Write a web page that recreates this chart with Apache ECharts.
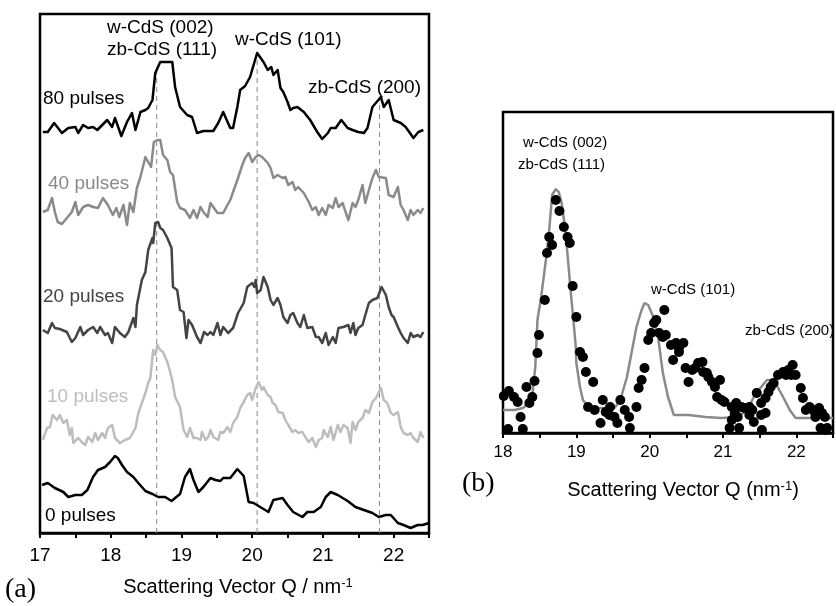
<!DOCTYPE html>
<html>
<head>
<meta charset="utf-8">
<script src="https://cdn.jsdelivr.net/npm/echarts@6/dist/echarts.min.js"></script>
<style>
  html, body { margin: 0; padding: 0; background: #fff; }
  #chart { width: 836px; height: 606px; }
</style>
</head>
<body>
<div id="chart"></div>
<script>
// ---- Panel (a): stacked scattering traces, [Q (nm^-1), offset intensity (a.u.)] ----
const trace80 = [[17.04,401],[17.11,401],[17.20,410],[17.31,400],[17.40,405],[17.50,406],[17.54,400],[17.61,408],[17.68,405],[17.75,406],[17.81,403],[17.88,408],[17.95,413],[18.02,406],[18.06,415],[18.15,397],[18.23,411],[18.30,420],[18.35,403],[18.42,421],[18.49,423],[18.53,425],[18.59,433],[18.63,460],[18.70,471],[18.87,471],[18.91,446],[18.98,426],[19.08,418],[19.15,416],[19.22,400],[19.31,402],[19.45,402],[19.52,410],[19.59,421],[19.69,405],[19.73,405],[19.79,426],[19.83,443],[19.90,447],[19.97,456],[20.02,468],[20.07,480],[20.16,471],[20.22,463],[20.27,466],[20.30,458],[20.36,463],[20.40,445],[20.44,441],[20.50,431],[20.54,423],[20.58,425],[20.64,426],[20.73,421],[20.82,413],[20.92,401],[20.99,394],[21.07,400],[21.11,405],[21.18,405],[21.26,413],[21.35,405],[21.42,403],[21.50,401],[21.58,400],[21.63,405],[21.70,426],[21.82,436],[21.86,426],[21.93,433],[22.00,413],[22.10,410],[22.17,406],[22.28,395],[22.35,401],[22.42,403]];

const trace40 = [[17.04,321],[17.11,323],[17.17,335],[17.21,321],[17.25,311],[17.31,309],[17.38,315],[17.45,321],[17.50,331],[17.54,318],[17.61,326],[17.68,328],[17.75,326],[17.82,325],[17.89,335],[17.96,328],[18.03,318],[18.08,325],[18.12,316],[18.18,328],[18.23,308],[18.27,330],[18.32,321],[18.37,345],[18.42,356],[18.49,376],[18.53,371],[18.57,366],[18.61,391],[18.66,393],[18.70,393],[18.74,378],[18.80,373],[18.84,361],[18.88,358],[18.94,331],[18.98,325],[19.05,323],[19.12,315],[19.17,323],[19.22,315],[19.27,326],[19.31,321],[19.37,316],[19.41,330],[19.45,326],[19.51,320],[19.59,320],[19.65,328],[19.69,333],[19.73,341],[19.80,355],[19.86,368],[19.90,375],[19.95,380],[20.00,371],[20.05,376],[20.09,378],[20.14,376],[20.22,370],[20.26,365],[20.30,355],[20.36,358],[20.43,355],[20.47,356],[20.51,348],[20.57,351],[20.61,343],[20.65,346],[20.73,340],[20.80,331],[20.85,323],[20.90,326],[20.94,318],[20.99,325],[21.04,318],[21.08,328],[21.14,325],[21.18,335],[21.22,326],[21.28,330],[21.32,321],[21.36,313],[21.42,330],[21.46,326],[21.50,333],[21.56,348],[21.60,330],[21.65,343],[21.70,355],[21.75,363],[21.79,356],[21.89,355],[21.93,338],[22.00,336],[22.06,346],[22.10,328],[22.14,323],[22.20,313],[22.24,323],[22.28,318],[22.34,323],[22.38,320],[22.42,325]];

const trace20 = [[17.04,203],[17.11,200],[17.17,210],[17.21,205],[17.28,204],[17.38,201],[17.45,191],[17.50,195],[17.57,206],[17.61,198],[17.68,203],[17.75,206],[17.81,200],[17.85,206],[17.92,198],[17.96,200],[18.02,190],[18.06,206],[18.13,200],[18.20,196],[18.25,201],[18.32,215],[18.35,206],[18.37,228],[18.44,253],[18.49,261],[18.53,283],[18.59,295],[18.60,290],[18.63,310],[18.67,311],[18.70,305],[18.74,303],[18.80,295],[18.86,285],[18.88,246],[18.94,243],[18.98,223],[19.03,221],[19.07,195],[19.10,213],[19.15,208],[19.22,196],[19.27,190],[19.32,201],[19.37,198],[19.41,201],[19.45,198],[19.51,210],[19.55,198],[19.59,206],[19.66,200],[19.73,205],[19.80,220],[19.88,230],[19.93,246],[20.00,250],[20.03,246],[20.05,253],[20.07,240],[20.12,243],[20.16,256],[20.22,246],[20.26,233],[20.30,228],[20.36,235],[20.40,228],[20.44,216],[20.50,210],[20.54,218],[20.58,220],[20.64,210],[20.68,206],[20.73,218],[20.78,205],[20.85,206],[20.90,196],[20.94,196],[20.99,190],[21.04,200],[21.08,188],[21.14,196],[21.18,190],[21.22,205],[21.29,206],[21.36,208],[21.39,200],[21.43,210],[21.46,198],[21.50,205],[21.56,208],[21.60,218],[21.65,230],[21.70,233],[21.77,235],[21.83,246],[21.89,238],[21.93,226],[21.97,218],[22.00,216],[22.06,206],[22.10,200],[22.14,195],[22.20,190],[22.24,200],[22.28,196],[22.34,198],[22.38,196],[22.42,201]];

const trace10 = [[17.04,93],[17.10,105],[17.14,106],[17.18,118],[17.24,113],[17.28,118],[17.33,110],[17.38,113],[17.42,98],[17.45,105],[17.47,90],[17.54,95],[17.59,91],[17.64,88],[17.68,96],[17.74,91],[17.78,100],[17.82,93],[17.88,100],[17.92,95],[17.96,105],[18.02,108],[18.06,95],[18.13,90],[18.20,93],[18.27,95],[18.35,105],[18.39,120],[18.44,130],[18.49,140],[18.53,150],[18.56,155],[18.60,183],[18.63,178],[18.66,188],[18.70,183],[18.74,181],[18.80,171],[18.84,161],[18.87,153],[18.91,136],[18.98,126],[19.03,103],[19.08,96],[19.12,105],[19.17,95],[19.22,95],[19.27,93],[19.29,101],[19.34,93],[19.38,96],[19.41,103],[19.45,96],[19.52,93],[19.55,101],[19.59,100],[19.65,106],[19.69,101],[19.73,110],[19.79,116],[19.83,125],[19.88,131],[19.93,138],[19.97,140],[20.00,133],[20.05,145],[20.09,151],[20.14,143],[20.16,146],[20.22,138],[20.26,136],[20.29,130],[20.33,128],[20.37,121],[20.43,120],[20.47,113],[20.51,108],[20.57,101],[20.61,103],[20.65,100],[20.71,101],[20.75,96],[20.80,91],[20.85,95],[20.90,86],[20.94,93],[20.99,95],[21.01,103],[21.07,96],[21.11,106],[21.15,93],[21.21,108],[21.25,101],[21.29,108],[21.35,105],[21.39,90],[21.42,111],[21.46,103],[21.50,111],[21.56,115],[21.60,123],[21.65,120],[21.70,131],[21.75,135],[21.82,145],[21.86,133],[21.91,130],[21.96,120],[22.00,118],[22.06,121],[22.10,106],[22.14,100],[22.20,98],[22.24,100],[22.28,95],[22.34,91],[22.38,101],[22.42,95]];

const trace0 = [[17.03,48],[17.11,50],[17.21,45],[17.33,41],[17.40,36],[17.50,38],[17.59,38],[17.67,43],[17.75,56],[17.82,63],[17.92,66],[17.99,71],[18.06,77],[18.10,75],[18.16,68],[18.23,61],[18.32,56],[18.39,50],[18.49,42],[18.59,39],[18.67,36],[18.77,36],[18.86,32],[18.91,35],[18.98,39],[19.05,56],[19.12,64],[19.17,53],[19.24,41],[19.31,46],[19.41,55],[19.48,53],[19.55,52],[19.59,55],[19.69,55],[19.79,64],[19.88,57],[19.95,31],[20.02,30],[20.09,27],[20.16,24],[20.23,21],[20.30,33],[20.43,35],[20.50,28],[20.58,21],[20.71,16],[20.78,21],[20.87,21],[20.97,26],[21.04,36],[21.11,41],[21.21,38],[21.35,32],[21.46,26],[21.58,23],[21.70,20],[21.79,16],[21.89,18],[21.96,18],[22.06,10],[22.14,8],[22.24,5],[22.34,8],[22.41,8],[22.50,10]];

// Reflection positions marked with dashed guides, and how high each guide reaches
const peakQ = [18.65, 20.07, 21.8];
const peakGuideTop = [466, 477, 433];

// ---- Panel (b): measured points and model curve, [Q (nm^-1), intensity (a.u.)] ----
const modelCurve = [[18.00,23],[18.16,23],[18.27,25],[18.36,30],[18.40,38],[18.44,66],[18.47,113],[18.52,136],[18.59,176],[18.63,203],[18.67,238],[18.72,244],[18.76,241],[18.80,230],[18.85,203],[18.89,170],[18.93,136],[18.96,113],[18.99,88],[19.00,70],[19.05,46],[19.09,33],[19.16,26],[19.29,25],[19.52,25],[19.60,33],[19.69,56],[19.76,83],[19.82,106],[19.89,123],[19.93,130],[19.98,128],[20.05,116],[20.12,93],[20.18,60],[20.25,36],[20.33,18],[20.53,18],[20.76,16],[20.98,15],[21.20,16],[21.33,23],[21.42,36],[21.52,46],[21.60,53],[21.66,53],[21.73,48],[21.82,36],[21.91,23],[21.99,15],[22.13,15],[22.50,15]];

const measured = [[18.01,37],[18.08,42],[18.15,36],[18.20,31],[18.24,16],[18.07,4],[18.27,4],[18.32,46],[18.36,30],[18.40,36],[18.43,52],[18.47,80],[18.49,98],[18.57,133],[18.60,180],[18.63,196],[18.67,188],[18.72,233],[18.77,222],[18.83,206],[18.88,196],[18.91,190],[18.95,147],[19.00,116],[19.05,81],[19.09,76],[19.13,61],[19.23,51],[19.16,26],[19.25,23],[19.36,33],[19.40,21],[19.33,10],[19.45,18],[19.46,26],[19.52,16],[19.56,10],[19.60,33],[19.66,23],[19.72,16],[19.73,5],[19.82,26],[19.85,45],[19.89,53],[19.93,65],[19.98,93],[20.02,100],[20.06,110],[20.09,113],[20.20,123],[20.13,100],[20.18,96],[20.22,98],[20.29,88],[20.36,90],[20.40,85],[20.46,90],[20.32,73],[20.40,81],[20.49,65],[20.53,51],[20.58,63],[20.62,65],[20.66,70],[20.72,71],[20.73,61],[20.78,60],[20.80,56],[20.85,51],[20.89,46],[20.96,53],[20.92,36],[20.98,33],[21.02,31],[21.12,26],[21.16,20],[21.20,16],[21.12,13],[21.09,5],[21.22,5],[21.18,30],[21.25,26],[21.29,25],[21.36,26],[21.40,23],[21.36,18],[21.42,11],[21.46,40],[21.52,30],[21.58,35],[21.62,41],[21.65,46],[21.69,50],[21.52,18],[21.58,20],[21.53,3],[21.75,58],[21.82,61],[21.89,63],[21.95,68],[21.99,58],[21.93,58],[21.86,58],[22.06,45],[22.09,35],[22.13,23],[22.18,26],[22.19,25],[22.25,21],[22.31,25],[22.35,20],[22.26,16],[22.39,16],[22.33,5],[22.39,3],[22.42,5]];

const SANS = '"Liberation Sans", Arial, Helvetica, sans-serif';
const SERIF = '"Liberation Serif", "Times New Roman", serif';

function intOnly(v) { return Number.isInteger(v) ? String(v) : ''; }

function bottomAxis(gridIndex, min, max, fontSize, margin) {
  return {
    type: 'value', gridIndex, min, max, interval: 0.5,
    axisLine: { show: true, onZero: false, lineStyle: { color: '#000', width: 2.5 } },
    axisTick: { show: true, inside: false, length: 5, lineStyle: { color: '#000', width: 2 } },
    axisLabel: { formatter: intOnly, color: '#000', fontSize, fontFamily: SANS, margin },
    splitLine: { show: false }
  };
}

function trace(data, color) {
  return {
    type: 'line', xAxisIndex: 0, yAxisIndex: 0, data, showSymbol: false,
    lineStyle: { color, width: 2.5, join: 'round' }, z: 3, silent: true
  };
}

const guides = peakQ.map((q, k) => ({
  type: 'line', xAxisIndex: 0, yAxisIndex: 0, showSymbol: false, silent: true, z: 2,
  data: [[q, 0], [q, peakGuideTop[k]]],
  lineStyle: { color: '#888', width: 1, type: [5, 4] }
}));

function label(text, x, y, size, color, family) {
  return {
    type: 'text', x, y, silent: true,
    style: { text, fontSize: size, fontFamily: family || SANS, fill: color || '#000', verticalAlign: 'middle', align: 'left' }
  };
}

const chart = echarts.init(document.getElementById('chart'), null, { renderer: 'canvas' });
chart.setOption({
  animation: false,
  backgroundColor: '#fff',
  grid: [
    { left: 40, top: 14, width: 389, height: 519, show: true, borderColor: '#000', borderWidth: 2.5, backgroundColor: 'transparent' },
    { left: 503, top: 112, width: 338, height: 321, show: true, borderColor: '#000', borderWidth: 2.5, backgroundColor: 'transparent' }
  ],
  xAxis: [ bottomAxis(0, 17, 22.5, 19, 13), bottomAxis(1, 18, 22.5, 17, 11) ],
  yAxis: [
    { type: 'value', gridIndex: 0, min: 0, max: 519, show: false },
    { type: 'value', gridIndex: 1, min: 0, max: 321, show: false }
  ],
  series: [
    ...guides,
    trace(trace0, '#000'),
    trace(trace10, '#bdbdbd'),
    trace(trace20, '#444'),
    trace(trace40, '#8a8a8a'),
    trace(trace80, '#000'),
    {
      type: 'line', xAxisIndex: 1, yAxisIndex: 1, data: modelCurve, showSymbol: false, silent: true, z: 3,
      lineStyle: { color: '#8a8a8a', width: 2.5 }
    },
    {
      type: 'scatter', xAxisIndex: 1, yAxisIndex: 1, data: measured, symbol: 'circle', symbolSize: 10, silent: true, z: 4,
      itemStyle: { color: '#000', opacity: 1 }
    }
  ],
  graphic: [
    // panel (a) annotations
    label('w-CdS (002)', 107, 28, 19),
    label('zb-CdS (111)', 107, 50, 19),
    label('w-CdS (101)', 235, 40, 19),
    label('zb-CdS (200)', 308, 88, 19),
    label('80 pulses', 43, 99, 19, '#000'),
    label('40 pulses', 48, 184, 19, '#8a8a8a'),
    label('20 pulses', 43, 297, 19, '#444'),
    label('10 pulses', 47, 397, 19, '#bdbdbd'),
    label('0 pulses', 45, 516, 19, '#000'),
    {
      type: 'text', x: 238, y: 587, silent: true,
      style: {
        text: 'Scattering Vector Q / nm{sup|-1}', fontSize: 20, fontFamily: SANS, fill: '#000',
        align: 'center', verticalAlign: 'middle',
        rich: { sup: { fontSize: 13, fontFamily: SANS, fill: '#000', verticalAlign: 'top', padding: [0, 0, 8, 0] } }
      }
    },
    { type: 'text', x: 5, y: 590, silent: true, style: { text: '(a)', fontSize: 28, fontFamily: SERIF, fill: '#000', verticalAlign: 'middle', letterSpacing: 2 } },
    // panel (b) annotations
    label('w-CdS (002)', 523, 143, 15),
    label('zb-CdS (111)', 518, 165, 15),
    label('w-CdS (101)', 651, 290, 15),
    label('zb-CdS (200)', 745, 331, 15),
    {
      type: 'text', x: 683, y: 490, silent: true,
      style: {
        text: 'Scattering Vector Q (nm{sup|-1})', fontSize: 20, fontFamily: SANS, fill: '#000',
        align: 'center', verticalAlign: 'middle',
        rich: { sup: { fontSize: 13, fontFamily: SANS, fill: '#000', verticalAlign: 'top', padding: [0, 0, 8, 0] } }
      }
    },
    { type: 'text', x: 462, y: 484, silent: true, style: { text: '(b)', fontSize: 28, fontFamily: SERIF, fill: '#000', verticalAlign: 'middle', letterSpacing: 2 } }
  ]
});
</script>
</body>
</html>
